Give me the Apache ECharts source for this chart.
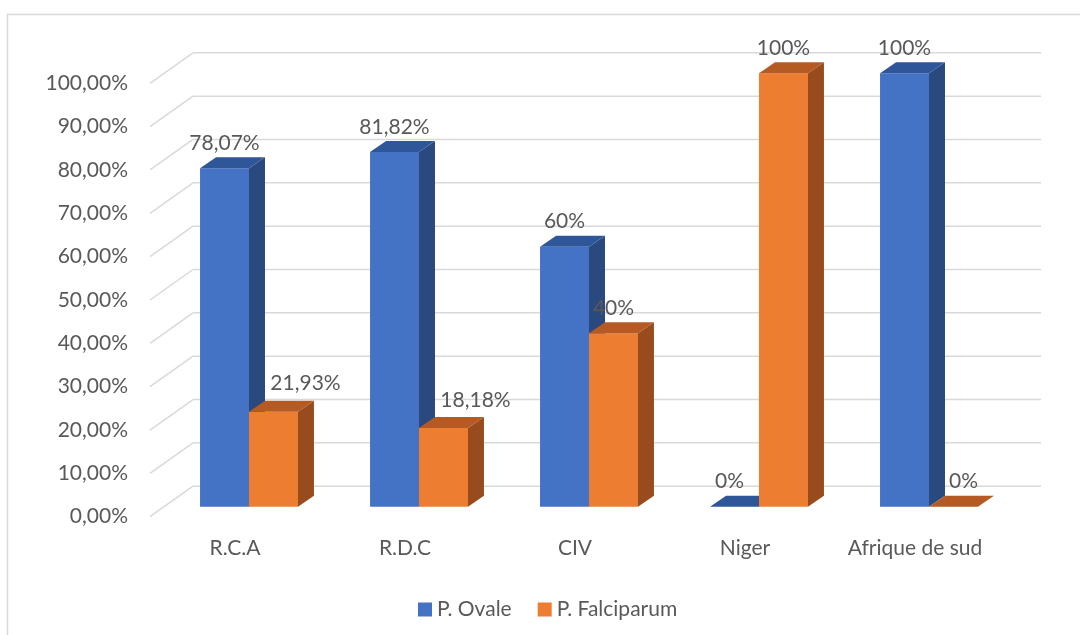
<!DOCTYPE html>
<html lang="fr">
<head>
  <meta charset="UTF-8">
  <title>P. Ovale / P. Falciparum</title>
  <script src="https://cdn.jsdelivr.net/npm/echarts@6/dist/echarts.min.js"></script>
  <style>
    html, body { margin: 0; padding: 0; background: #fff; }
  </style>
</head>
<body>
  <div id="app" style="width: 1080px; height: 635px;"></div>
  <script>
    var categories = ['R.C.A', 'R.D.C', 'CIV', 'Niger', 'Afrique de sud']
    var ovale = [78.07, 81.82, 60, 0, 100]
    var falciparum = [21.93, 18.18, 40, 100, 0]
    var ticks = [0, 10, 20, 30, 40, 50, 60, 70, 80, 90, 100]

    var textColor = '#595959'
    var font = 'Lato'
    // depth of the floor (wall offset), position of the bars in it, bar depth
    var wallDx = 43, wallDy = -30.5
    var barOffX = 14, barOffY = -10
    var barDx = 16, barDy = -11

    var chart = echarts.init(document.querySelector('#app'))

    function pct(v) {
      return String(v).replace('.', ',') + '%'
    }

    function renderWall(params, api) {
      var p = api.coord([0, api.value(0)])
      var cs = params.coordSys
      var x0 = cs.x, x1 = cs.x + cs.width - 2
      var style = { stroke: '#D9D9D9', lineWidth: 1.5 }
      return {
        type: 'group',
        children: [
          { type: 'line', shape: { x1: x0, y1: p[1], x2: x0 + wallDx, y2: p[1] + wallDy }, style: style },
          { type: 'line', shape: { x1: x0 + wallDx, y1: p[1] + wallDy, x2: x1 + wallDx, y2: p[1] + wallDy }, style: style }
        ]
      }
    }

    function makeBar(side, colors, others) {
      return function (params, api) {
        var idx = api.value(0)
        var val = api.value(1)
        var base = api.coord([idx, 0])
        var top = api.coord([idx, val])
        var band = api.size([1, 0])[0]
        var w = band * 0.288
        var x0 = base[0] + barOffX + (side === 0 ? -w : 0)
        var x1 = x0 + w
        var yb = base[1] + barOffY
        var yt = top[1] + barOffY
        var lx = x0 + w / 2, ly = yt - 25
        var other = others[params.dataIndex]
        // label moved aside when it would sit on the taller neighbour bar
        if (side === 1 && val > 0 && other > val * 2) {
          lx += 32
          ly -= 3
        }
        if (val === 0 && other > 0) {
          lx += side === 0 ? -5 : 10
        }
        var z = side * 5
        return {
          type: 'group',
          children: [
            { type: 'rect', z2: z, shape: { x: x0, y: yt, width: w, height: yb - yt }, style: { fill: colors[0] } },
            { type: 'polygon', z2: z, shape: { points: [[x1, yt], [x1 + barDx, yt + barDy], [x1 + barDx, yb + barDy], [x1, yb]] }, style: { fill: colors[1] } },
            { type: 'polygon', z2: z, shape: { points: [[x0, yt], [x0 + barDx, yt + barDy], [x1 + barDx, yt + barDy], [x1, yt]] }, style: { fill: colors[2] } },
            { type: 'text', z2: 50, x: lx, y: ly, style: { text: pct(val), fill: textColor, font: '21px ' + font, align: 'center', verticalAlign: 'middle' } }
          ]
        }
      }
    }

    var option = {
      backgroundColor: '#fff',
      animation: false,
      graphic: [{
        type: 'rect',
        shape: { x: 7.5, y: 14.5, width: 1100, height: 650 },
        style: { fill: 'none', stroke: '#D9D9D9', lineWidth: 1.5 },
        silent: true
      }],
      grid: { left: 150, right: 80, top: 83.3, bottom: 118.3 },
      legend: {
        left: 413,
        top: 594,
        itemWidth: 14,
        itemHeight: 14,
        itemGap: 26,
        icon: 'rect',
        textStyle: { color: textColor, fontFamily: font, fontSize: 21 },
        data: ['P. Ovale', 'P. Falciparum']
      },
      xAxis: {
        type: 'category',
        data: categories,
        axisLine: { show: false },
        axisTick: { show: false },
        axisLabel: { interval: 0, color: textColor, fontFamily: font, fontSize: 21, margin: 21 }
      },
      yAxis: {
        type: 'value',
        min: 0,
        max: 100,
        interval: 10,
        axisLine: { show: false },
        axisTick: { show: false },
        splitLine: { show: false },
        axisLabel: {
          color: textColor, fontFamily: font, fontSize: 21, margin: 22,
          formatter: function (v) { return v.toFixed(2).replace('.', ',') + '%' }
        }
      },
      series: [
        {
          type: 'custom',
          name: 'walls',
          renderItem: renderWall,
          data: ticks.map(function (t) { return [t] }),
          encode: { y: 0 },
          silent: true,
          z: 1
        },
        {
          type: 'custom',
          name: 'P. Ovale',
          itemStyle: { color: '#4472C4' },
          renderItem: makeBar(0, ['#4472C4', '#2A4A7F', '#30569A'], falciparum),
          data: ovale.map(function (v, i) { return [i, v] }),
          encode: { x: 0, y: 1 },
          z: 2
        },
        {
          type: 'custom',
          name: 'P. Falciparum',
          itemStyle: { color: '#ED7D31' },
          renderItem: makeBar(1, ['#ED7D31', '#984C1E', '#B55A22'], ovale),
          data: falciparum.map(function (v, i) { return [i, v] }),
          encode: { x: 0, y: 1 },
          z: 3
        }
      ]
    }
    chart.setOption(option)
  </script>
</body>
</html>
